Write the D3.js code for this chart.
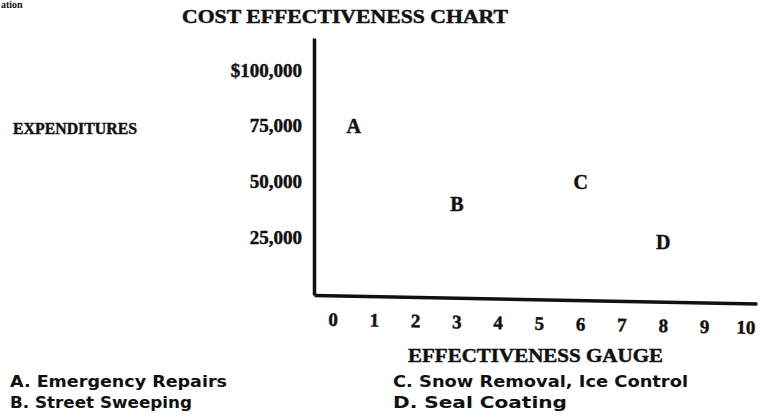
<!DOCTYPE html>
<html>
<head>
<meta charset="utf-8">
<script src="https://cdn.jsdelivr.net/npm/d3@7"></script>
<style>
  html,body{margin:0;padding:0;background:#fff;}
  svg{display:block;}
  text{fill:#111;}
  .heavy{stroke:#111;stroke-width:0.45px;}
</style>
</head>
<body>
<svg id="chart" width="759" height="418"></svg>
<script>
const width = 759;
const height = 418;

// data
const pointLabels = ['A','B','C','D'];
const effectiveness = [0.5, 3, 6, 8];
const expenditures = [75000, 40000, 50000, 23000];
const xTicks = [0,1,2,3,4,5,6,7,8,9,10];
const yTicks = [25000,50000,75000,100000];
const legendItems = ['A. Emergency Repairs','B. Street Sweeping','C. Snow Removal, Ice Control','D. Seal Coating'];

const serif = '"Liberation Serif","DejaVu Serif",serif';
const sans = '"DejaVu Sans","Noto Sans",sans-serif';

const svg = d3.select('#chart');

// scales: axis lines run a bit past the labelled range
const x = d3.scaleLinear().domain([-0.46,10.27]).range([314,757]);
const y = d3.scaleLinear().domain([-1000,114500]).range([295,38]);

// fragment of the previous line of the scanned page
svg.append('text').attr('x',1).attr('y',8)
  .attr('font-family',serif).attr('font-weight','bold').attr('font-size',10)
  .text('ation');

// title
svg.append('text').attr('class','heavy').attr('x',182).attr('y',23)
  .attr('font-family',serif).attr('font-weight','bold').attr('font-size',18)
  .attr('textLength',326).attr('lengthAdjust','spacingAndGlyphs')
  .text('COST EFFECTIVENESS CHART');

// y axis
const fmt = d3.format(',');
const yAxis = d3.axisLeft(y).tickValues(yTicks).tickSize(0).tickPadding(12)
  .tickFormat(d=> d===100000 ? '$'+fmt(d) : fmt(d));
const gy = svg.append('g').attr('transform',`translate(${x.range()[0]},0)`).call(yAxis);
gy.select('.domain').attr('stroke','#111').attr('stroke-width',3.5);
gy.selectAll('text').attr('class','heavy').attr('font-family',serif).attr('font-weight','bold').attr('font-size',19).attr('fill','#111');

svg.append('text').attr('class','heavy').attr('x',13).attr('y',134)
  .attr('font-family',serif).attr('font-weight','bold').attr('font-size',17)
  .attr('textLength',124).attr('lengthAdjust','spacingAndGlyphs')
  .text('EXPENDITURES');

// x axis, slightly tilted like the scan
const xAxis = d3.axisBottom(x).tickValues(xTicks).tickSize(0).tickPadding(17);
const gx = svg.append('g')
  .attr('transform',`translate(0,${y.range()[0]}) rotate(1.1,${x.range()[0]},0)`)
  .call(xAxis);
gx.select('.domain').attr('stroke','#111').attr('stroke-width',3.5);
gx.selectAll('text').attr('class','heavy').attr('font-family',serif).attr('font-weight','bold').attr('font-size',19).attr('fill','#111');

svg.append('text').attr('class','heavy').attr('x',408).attr('y',362)
  .attr('font-family',serif).attr('font-weight','bold').attr('font-size',18)
  .attr('textLength',255).attr('lengthAdjust','spacingAndGlyphs')
  .text('EFFECTIVENESS GAUGE');

// points drawn as letters
svg.selectAll('text.pt').data(pointLabels).enter().append('text')
  .attr('class','pt heavy')
  .attr('x',(d,i)=>x(effectiveness[i]))
  .attr('y',(d,i)=>y(expenditures[i]))
  .attr('dy','0.35em')
  .attr('text-anchor','middle')
  .attr('font-family',serif).attr('font-weight','bold').attr('font-size',20)
  .text(d=>d);

// legend
const legendX = [10,10,393,393];
const legendY = [387,408,387,408];
const legendLen = [217,182,295,174];
svg.selectAll('text.leg').data(legendItems).enter().append('text')
  .attr('class','leg')
  .attr('x',(d,i)=>legendX[i]).attr('y',(d,i)=>legendY[i])
  .attr('font-family',sans).attr('font-weight','bold').attr('font-size',16)
  .attr('textLength',(d,i)=>legendLen[i]).attr('lengthAdjust','spacingAndGlyphs')
  .text(d=>d);
</script>
</body>
</html>
